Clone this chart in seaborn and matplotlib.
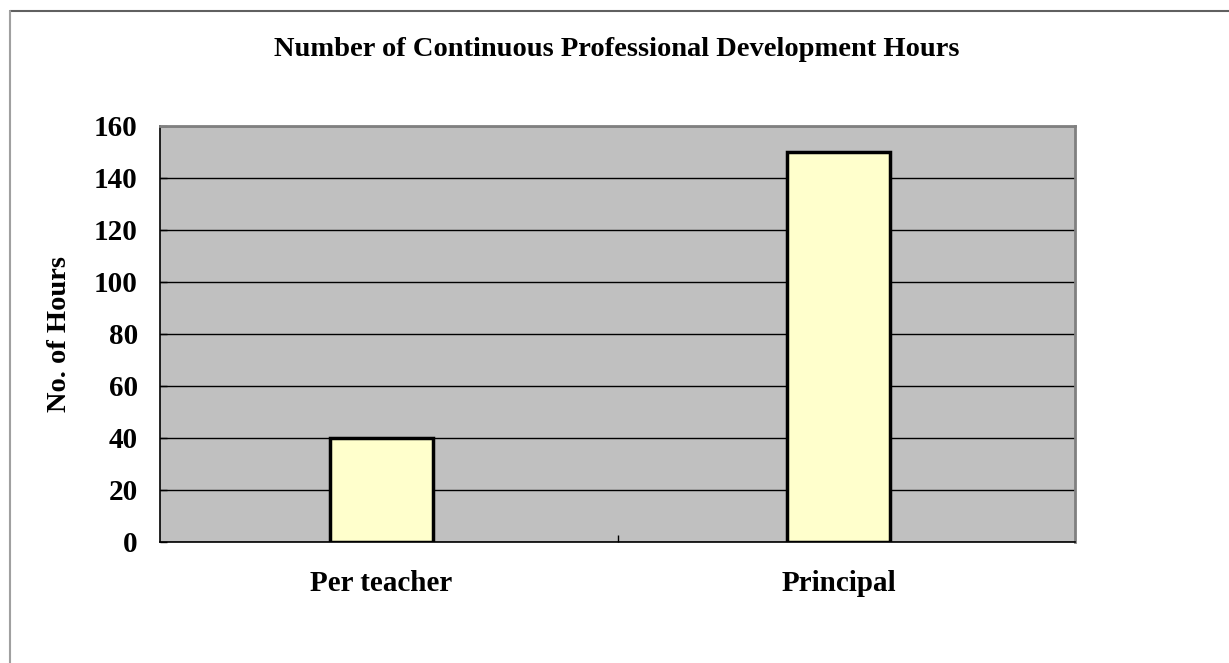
import pandas as pd
import seaborn as sns
import matplotlib.pyplot as plt
from matplotlib.lines import Line2D

# Data
categories = ["Per teacher", "Principal"]
hours = [40, 150]

title = "Number of Continuous Professional Development Hours"
y_label = "No. of Hours"

df = pd.DataFrame({"Category": categories, "Hours": hours})

sns.set_style("white")
plt.rcParams['font.family'] = ['Liberation Serif', 'DejaVu Serif']
plt.rcParams['font.weight'] = 'bold'
plt.rcParams['text.color'] = 'black'
plt.rcParams['xtick.color'] = 'black'
plt.rcParams['ytick.color'] = 'black'
plt.rcParams['axes.labelcolor'] = 'black'

fig = plt.figure(figsize=(12.29, 6.63), dpi=100)
ax = fig.add_axes([160 / 1229, 1 - 542 / 663, 915 / 1229, 416 / 663])

sns.barplot(data=df, x="Category", y="Hours", ax=ax, color="#FFFFCC",
            width=0.225, edgecolor="black", linewidth=2.5, saturation=1, zorder=3)

ax.set_facecolor("#C0C0C0")
ax.set_ylim(0, 160)
shift = 0.016
ax.set_xlim(-0.5 + shift, 1.5 + shift)
ax.set_yticks(range(0, 161, 20))
ax.yaxis.grid(True, color="black", linewidth=1, zorder=0)
ax.set_axisbelow(True)

for side in ["top", "right"]:
    ax.spines[side].set_color("#808080")
    ax.spines[side].set_linewidth(2)
for side in ["left", "bottom"]:
    ax.spines[side].set_color("black")
    ax.spines[side].set_linewidth(1.2)

ax.tick_params(axis="y", which="major", direction="in", length=5, width=1,
               left=True, labelsize=21, pad=16)
ax.tick_params(axis="x", which="major", length=0, labelsize=21, pad=20)
ax.set_xticks([0, 1])
ax.set_xticklabels(categories, fontweight="bold")
ax.set_xticks([0.5 + shift], minor=True)
ax.tick_params(axis="x", which="minor", direction="in", length=5, width=1, bottom=True)
for t in ax.get_yticklabels():
    t.set_fontweight("bold")

ax.set_xlabel("")
ax.set_ylabel(y_label, fontsize=20.5, fontweight="bold")
ax.yaxis.set_label_coords(-88 / 915, 0.5)

fig.text(617 / 1229, 1 - 50 / 663, title, ha="center", va="center",
         fontsize=20.5, fontweight="bold")

# chart frame
fig.add_artist(Line2D([10 / 1229, 1], [1 - 11 / 663, 1 - 11 / 663],
                      transform=fig.transFigure, color="#606060", linewidth=1.5))
fig.add_artist(Line2D([10 / 1229, 10 / 1229], [0, 1 - 11 / 663],
                      transform=fig.transFigure, color="#A0A0A0", linewidth=1.5))

plt.savefig("out.png", dpi=100)
plt.close()
